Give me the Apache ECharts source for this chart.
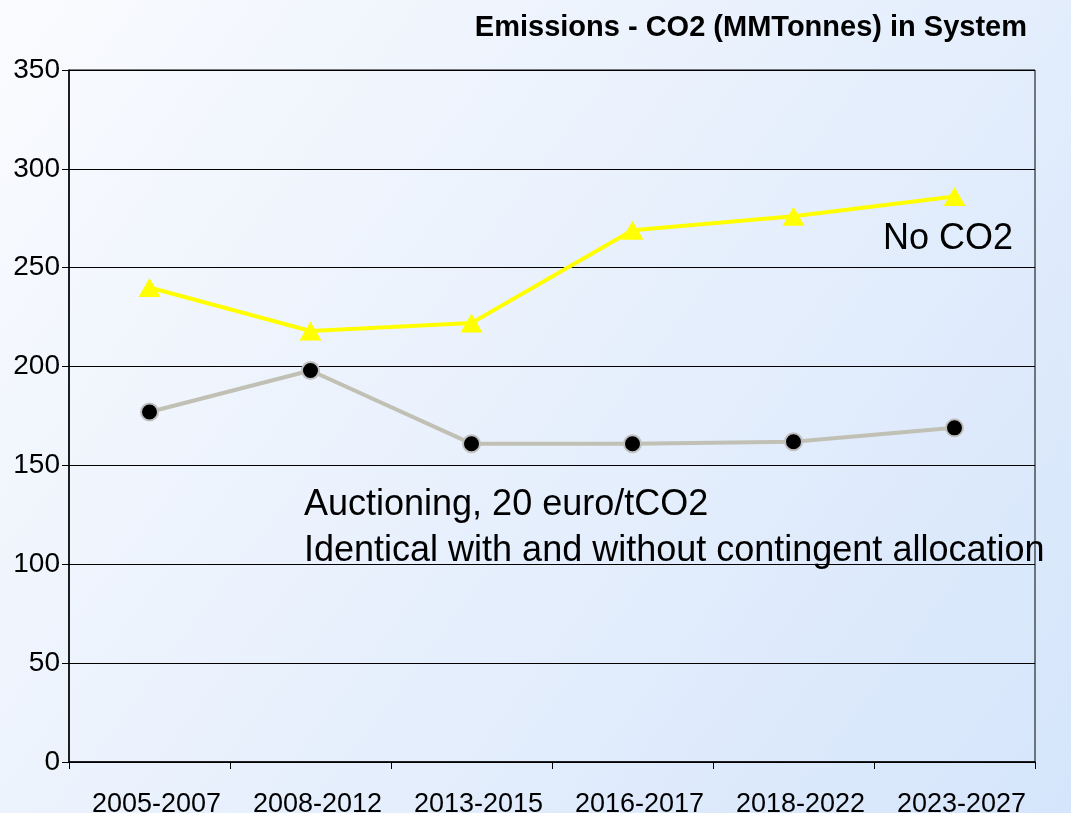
<!DOCTYPE html>
<html>
<head>
<meta charset="utf-8">
<script src="https://cdn.jsdelivr.net/npm/echarts@6/dist/echarts.min.js"></script>
<style>
  html, body { margin: 0; padding: 0; }
  #chart { width: 1071px; height: 813px; }
</style>
</head>
<body>
<div id="chart"></div>
<script>
var categories = ['2005-2007', '2008-2012', '2013-2015', '2016-2017', '2018-2022', '2023-2027'];
var noCO2 = [240, 218, 222, 269, 276, 286];
var auctioning = [177, 198, 161, 161, 162, 169];
var yTicks = { min: 0, max: 350, interval: 50 };

var font = "'Liberation Sans', Arial, sans-serif";

var myChart = echarts.init(document.getElementById('chart'));
var option = {
    backgroundColor: new echarts.graphic.LinearGradient(0, 0, 1, 1, [
        { offset: 0, color: '#fafbfe' },
        { offset: 1, color: '#d5e5fb' }
    ]),
    animation: false,
    title: {
        text: 'Emissions - CO2 (MMTonnes) in System',
        right: 39,
        top: 8,
        textStyle: { fontFamily: font, fontSize: 29, fontWeight: 'bold', color: '#000' }
    },
    grid: {
        left: 69, right: 36, top: 70, bottom: 51,
        outerBoundsMode: 'none',
        containLabel: false,
        show: true, borderColor: '#000', borderWidth: 1,
        backgroundColor: 'transparent'
    },
    xAxis: {
        type: 'category',
        data: categories,
        boundaryGap: true,
        axisLine: { lineStyle: { color: '#000', width: 1.5 } },
        axisTick: { show: true, length: 7, lineStyle: { color: '#000' } },
        axisLabel: {
            margin: 29, color: '#000', fontFamily: font, fontSize: 27, interval: 0,
            padding: [0, 0, 0, 14]
        },
        splitLine: { show: false }
    },
    yAxis: {
        type: 'value',
        min: yTicks.min, max: yTicks.max, interval: yTicks.interval,
        axisLine: { show: true, lineStyle: { color: '#000', width: 1.5 } },
        axisTick: { show: true, length: 7, lineStyle: { color: '#000' } },
        axisLabel: { margin: 9, color: '#000', fontFamily: font, fontSize: 28 },
        splitLine: { lineStyle: { color: '#000', width: 1 } }
    },
    series: [
        {
            name: 'No CO2',
            type: 'line',
            data: noCO2,
            symbol: 'triangle',
            symbolSize: [22, 19],
            lineStyle: { color: '#ffff00', width: 4 },
            itemStyle: { color: '#ffff00' },
            z: 3
        },
        {
            name: 'Auctioning',
            type: 'line',
            data: auctioning,
            symbol: 'circle',
            symbolSize: 17,
            lineStyle: { color: '#c0c0b4', width: 4 },
            itemStyle: { color: '#000', borderColor: '#c0c0c0', borderWidth: 2 },
            z: 4
        }
    ],
    graphic: [
        {
            type: 'text', left: 883, top: 221, z: 10,
            style: { text: 'No CO2', fill: '#000', font: '36px ' + font }
        },
        {
            type: 'text', left: 304, top: 482, z: 10,
            style: {
                text: 'Auctioning, 20 euro/tCO2\nIdentical with and without contingent allocation',
                fill: '#000', font: '36px ' + font, lineHeight: 46
            }
        }
    ]
};
myChart.setOption(option);
</script>
</body>
</html>
